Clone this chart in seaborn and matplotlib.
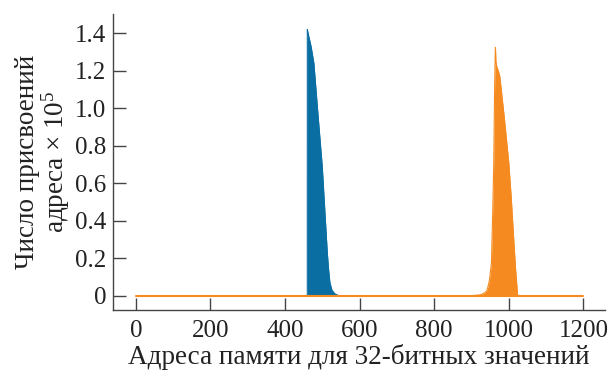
import matplotlib
matplotlib.use("Agg")
import matplotlib.pyplot as plt
import seaborn as sns
import pandas as pd

sns.set_theme(style="ticks")
plt.rcParams['font.family'] = ['Liberation Serif', 'DejaVu Serif']
plt.rcParams['mathtext.fontset'] = 'custom'
plt.rcParams['mathtext.rm'] = 'Liberation Serif'
plt.rcParams['mathtext.default'] = 'regular'

# Baseline (address range)
base_x = [0, 1200]
base_y = [0, 0]

# Blue peak (addresses, count x 1e5)
blue_x = [455, 459.9, 460, 462, 470, 477.6, 488, 500, 507, 513.5, 517, 520.5, 526, 533, 540, 546]
blue_y = [0, 0, 1.42, 1.40, 1.33, 1.24, 0.98, 0.69, 0.45, 0.23, 0.14, 0.07, 0.03, 0.012, 0.004, 0]

# Orange peak
orange_x = [900, 924, 935, 942, 948, 953.6, 957, 959.8, 962, 963.5, 964.3, 965.5, 968, 972, 976, 988, 1000, 1006.4, 1011.8, 1018, 1023, 1024]
orange_y = [0, 0.005, 0.015, 0.03, 0.08, 0.175, 0.45, 0.71, 1.10, 1.28, 1.325, 1.25, 1.22, 1.20, 1.17, 0.95, 0.71, 0.53, 0.35, 0.15, 0.02, 0]

blue = "#0a6ea3"
orange = "#f58b20"

fig = plt.figure(figsize=(6.1, 3.78), dpi=100)
ax = fig.add_axes([113/610, 1-310/378, (605-113)/610, (310-14)/378])

dfb = pd.DataFrame({"x": blue_x, "y": blue_y})
dfo = pd.DataFrame({"x": orange_x, "y": orange_y})
dfbase = pd.DataFrame({"x": base_x, "y": base_y})

ax.fill_between(dfb["x"], 0, dfb["y"], color=blue, linewidth=0)
sns.lineplot(data=dfb, x="x", y="y", ax=ax, color=blue, linewidth=0.8)
ax.fill_between(dfo["x"], 0, dfo["y"], color=orange, linewidth=0)
sns.lineplot(data=dfo, x="x", y="y", ax=ax, color=orange, linewidth=0.8)
sns.lineplot(data=dfbase, x="x", y="y", ax=ax, color=orange, linewidth=1.5)

ax.set_xlim(-61, 1258)
ax.set_ylim(-0.076, 1.503)
ax.set_xticks([0, 200, 400, 600, 800, 1000, 1200])
ax.set_yticks([0, 0.2, 0.4, 0.6, 0.8, 1.0, 1.2, 1.4])
ax.set_yticklabels(["0", "0.2", "0.4", "0.6", "0.8", "1.0", "1.2", "1.4"])

for s in ["top", "right"]:
    ax.spines[s].set_visible(False)
for s in ["left", "bottom"]:
    ax.spines[s].set_color("#444444")
    ax.spines[s].set_linewidth(1.0)
ax.tick_params(direction="in", length=9, width=1.0, color="#444444",
               labelsize=18, labelcolor="#222222")
ax.tick_params(axis="x", pad=7)
ax.tick_params(axis="y", pad=5)

ax.set_xlabel("Адреса памяти для 32-битных значений", fontsize=19.5, color="#222222", labelpad=2)
ax.set_ylabel("Число присвоений\nадреса × 10$^{\\mathregular{5}}$", fontsize=19.5, color="#222222",
              labelpad=2, linespacing=1.0, multialignment="center")

fig.savefig("out.png", dpi=100)
